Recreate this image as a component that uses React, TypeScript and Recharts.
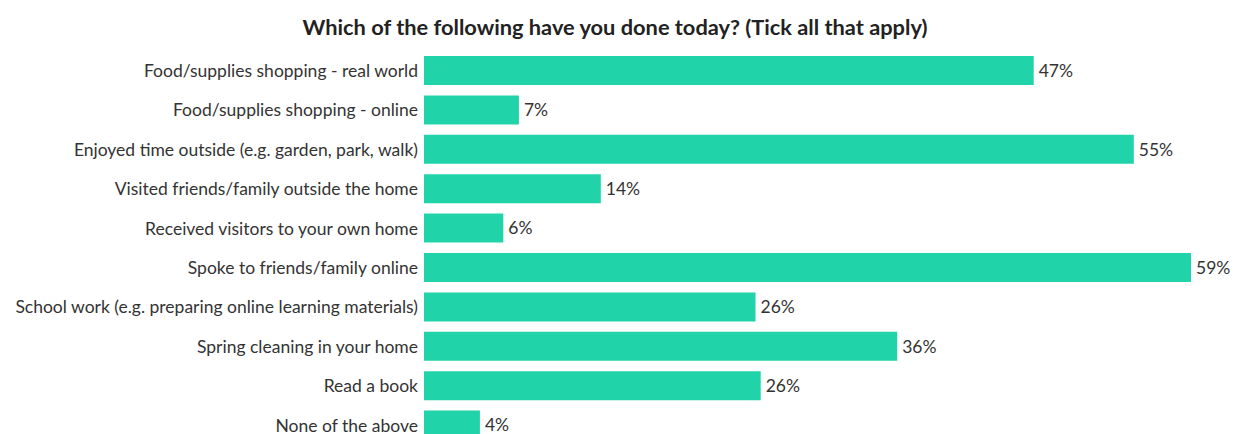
import { BarChart, Bar, XAxis, YAxis, LabelList } from "recharts";

const activities = [
  "Food/supplies shopping - real world",
  "Food/supplies shopping - online",
  "Enjoyed time outside (e.g. garden, park, walk)",
  "Visited friends/family outside the home",
  "Received visitors to your own home",
  "Spoke to friends/family online",
  "School work (e.g. preparing online learning materials)",
  "Spring cleaning in your home",
  "Read a book",
  "None of the above",
];

// share of respondents, %
const shares = [46.9, 7.3, 54.6, 13.6, 6.1, 59.0, 25.5, 36.4, 25.9, 4.3];

const data = activities.map((name, i) => ({ name, value: shares[i] }));

const FONT = "Lato, 'Open Sans', sans-serif";

export default function App() {
  return (
    <div
      style={{
        position: "absolute",
        left: 0,
        top: 0,
        width: 1238,
        height: 434,
        overflow: "hidden",
        background: "#fff",
        fontFamily: FONT,
      }}
    >
      <div
        style={{
          position: "absolute",
          left: 0,
          top: 13,
          width: 1230,
          textAlign: "center",
          fontSize: 21.8,
          fontWeight: 700,
          color: "#222",
        }}
      >
        Which of the following have you done today? (Tick all that apply)
      </div>
      <BarChart
        width={1238}
        height={470}
        data={data}
        layout="vertical"
        margin={{ top: 51, right: 8, left: 0, bottom: 25 }}
        barCategoryGap={5}
      >
        <XAxis type="number" domain={[0, 62]} hide />
        <YAxis
          type="category"
          dataKey="name"
          width={424}
          axisLine={false}
          tickLine={false}
          tickSize={0}
          tickMargin={6}
          interval={0}
          tick={{ fill: "#333", fontSize: 17.5, fontFamily: FONT }}
        />
        <Bar dataKey="value" fill="#20d3a8" isAnimationActive={false}>
          <LabelList
            dataKey="value"
            position="right"
            offset={5}
            formatter={(v: number) => `${Math.round(v)}%`}
            style={{ fill: "#333", fontSize: 17.5, fontFamily: FONT }}
          />
        </Bar>
      </BarChart>
    </div>
  );
}
